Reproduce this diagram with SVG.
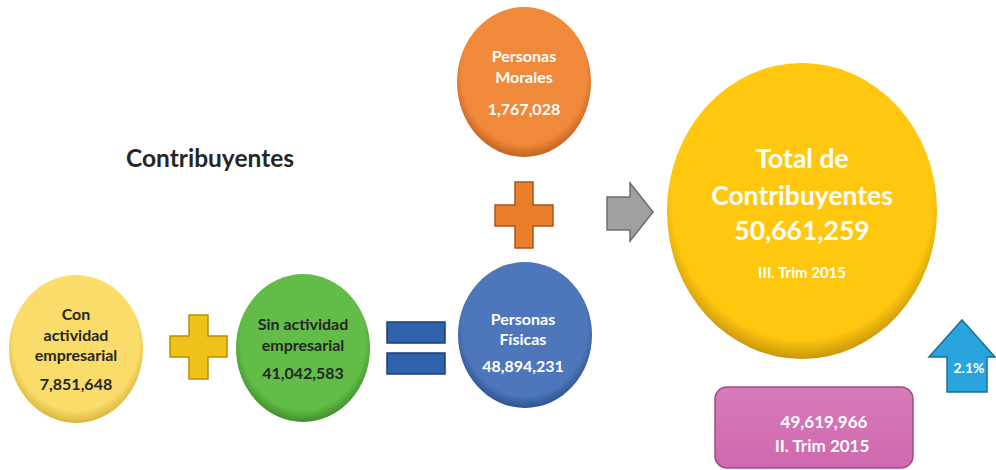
<svg xmlns="http://www.w3.org/2000/svg" width="996" height="470" viewBox="0 0 996 470">
<style>
text{font-family:Lato,"Open Sans","Liberation Sans",sans-serif;font-weight:bold;text-anchor:middle}
.dk{fill:#262626;font-size:16px}
.wt{fill:#ffffff;font-size:16px}
.big{fill:#ffffff;font-size:26.5px}
</style>
<defs>
<radialGradient id="gY" cx="50%" cy="45%" r="55%"><stop offset="0.85" stop-color="#FADC6A"/><stop offset="1" stop-color="#D9B53C"/></radialGradient>
<radialGradient id="gG" cx="50%" cy="45%" r="55%"><stop offset="0.85" stop-color="#62BC48"/><stop offset="1" stop-color="#3F8E2C"/></radialGradient>
<radialGradient id="gB" cx="50%" cy="45%" r="55%"><stop offset="0.85" stop-color="#4D77BA"/><stop offset="1" stop-color="#2E5290"/></radialGradient>
<radialGradient id="gO" cx="50%" cy="45%" r="55%"><stop offset="0.85" stop-color="#F0893A"/><stop offset="1" stop-color="#C0621E"/></radialGradient>
<radialGradient id="gT" cx="50%" cy="45%" r="55%"><stop offset="0.88" stop-color="#FFC80F"/><stop offset="1" stop-color="#C9960A"/></radialGradient>
<linearGradient id="gP" x1="0" y1="0" x2="0" y2="1"><stop offset="0" stop-color="#D77BBA"/><stop offset="1" stop-color="#CF68AD"/></linearGradient>
</defs>
<text x="210" y="167" style="fill:#262626;font-size:24.5px">Contribuyentes</text>
<g id="connectors">
<path id="plus1" d="M189,315 H208 V336 H227 V357 H208 V379 H189 V357 H170 V336 H189 Z" fill="#EFC21A" stroke="#B98F00" stroke-width="1.5"/>
<g id="equals" fill="#2F62AC" stroke="#1E3F75" stroke-width="1.5">
<rect x="387" y="322" width="58" height="21"/>
<rect x="387" y="353" width="58" height="21"/>
</g>
<path id="plus2" d="M515,182 H533 V205 H553 V226 H533 V248 H515 V226 H495 V205 H515 Z" fill="#EA7E2B" stroke="#A9551A" stroke-width="1.5"/>
<path id="arrowR" d="M607,197 H630 V183 L653,212 L630,241 V230 H607 Z" fill="#A0A0A0" stroke="#6E6E6E" stroke-width="1.5"/>
<path id="arrowU" d="M947,392 V357 H929 L962,320 L995,357 H987 V392 Z" fill="#2AA4DD" stroke="#1A6F9A" stroke-width="1.5"/>
</g>
<g id="con">
<ellipse cx="76" cy="349" rx="67" ry="74" fill="url(#gY)"/>
<text class="dk" x="76" y="320">Con</text>
<text class="dk" x="76" y="341">actividad</text>
<text class="dk" x="76" y="361">empresarial</text>
<text class="dk" x="76" y="390">7,851,648</text>
</g>
<g id="sin">
<ellipse cx="303" cy="348" rx="67" ry="74" fill="url(#gG)"/>
<text class="dk" x="303" y="330">Sin actividad</text>
<text class="dk" x="303" y="351">empresarial</text>
<text class="dk" x="303" y="379">41,042,583</text>
</g>
<g id="fisicas">
<ellipse cx="525" cy="335" rx="67" ry="73" fill="url(#gB)"/>
<text class="wt" x="523" y="325">Personas</text>
<text class="wt" x="523" y="345">Físicas</text>
<text class="wt" x="523" y="372">48,894,231</text>
</g>
<g id="morales">
<ellipse cx="524" cy="82" rx="67" ry="75" fill="url(#gO)"/>
<text class="wt" x="524" y="62">Personas</text>
<text class="wt" x="524" y="83">Morales</text>
<text class="wt" x="524" y="115">1,767,028</text>
</g>
<g id="total">
<ellipse cx="802" cy="211" rx="135" ry="148" fill="url(#gT)"/>
<text class="big" x="802" y="168">Total de</text>
<text class="big" x="802" y="205">Contribuyentes</text>
<text class="big" x="802" y="240">50,661,259</text>
<text class="wt" x="802" y="278" style="font-size:15px">III. Trim 2015</text>
</g>
<g id="trim2">
<rect x="715" y="387" width="198" height="81" rx="12" fill="url(#gP)" stroke="#A24886" stroke-width="1.5"/>
<text class="wt" x="824" y="428" style="font-size:17px">49,619,966</text>
<text class="wt" x="822" y="452" style="font-size:17px">II. Trim 2015</text>
</g>
<text x="969" y="373" style="fill:#ffffff;font-size:14px">2.1%</text>
</svg>
